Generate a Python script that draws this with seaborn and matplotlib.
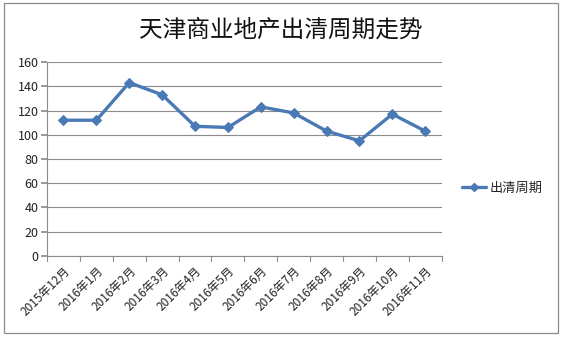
import matplotlib
matplotlib.use("Agg")
import matplotlib.pyplot as plt
import seaborn as sns
import pandas as pd
from matplotlib.patches import Rectangle
from matplotlib.lines import Line2D

categories = ["2015年12月", "2016年1月", "2016年2月", "2016年3月", "2016年4月", "2016年5月",
              "2016年6月", "2016年7月", "2016年8月", "2016年9月", "2016年10月", "2016年11月"]
values = [112, 112, 143, 133, 107, 106, 123, 118, 103, 95, 117, 103]
series_name = "出清周期"
title = "天津商业地产出清周期走势"
yticks = [0, 20, 40, 60, 80, 100, 120, 140, 160]

sns.set_theme(style="white")
plt.rcParams['font.family'] = ['Noto Sans CJK SC', 'DejaVu Sans']

df = pd.DataFrame({"month": categories, "value": values, "x": range(len(categories))})

fig = plt.figure(figsize=(5.63, 3.39), dpi=100)
ax = fig.add_axes([0.0835, 0.245, 0.701, 0.572])

color = "#4A7AB5"
sns.lineplot(data=df, x="x", y="value", ax=ax, color=color, linewidth=2.4,
             marker="D", markersize=5.5, markeredgecolor=color, legend=False)

ax.set_xlim(-0.5, len(categories) - 0.5)
ax.set_ylim(0, 160)
ax.set_yticks(yticks)
ax.set_yticklabels([str(t) for t in yticks], fontsize=9, color="#222222")
ax.grid(axis="y", color="#8c8c8c", linewidth=0.8)
ax.set_axisbelow(True)

ax.set_xticks(range(len(categories)))
ax.set_xticklabels(categories, rotation=45, ha="right", rotation_mode="anchor",
                   fontsize=8.5, color="#222222")
ax.tick_params(axis="x", length=0, pad=6)
ax.tick_params(axis="y", length=4, color="#8c8c8c", direction="out", left=True, pad=2)
# boundary tick marks between categories
for b in [i - 0.5 for i in range(len(categories) + 1)]:
    ax.plot([b, b], [0, -4.5], color="#8c8c8c", linewidth=0.8, clip_on=False)

for s in ["top", "right"]:
    ax.spines[s].set_visible(False)
for s in ["left", "bottom"]:
    ax.spines[s].set_color("#8c8c8c")
    ax.spines[s].set_linewidth(0.8)
ax.set_xlabel("")
ax.set_ylabel("")

fig.text(0.498, 0.91, title, ha="center", va="center", fontsize=17,
         fontweight="medium", color="#111111")

handle = Line2D([], [], color=color, linewidth=2.4, marker="D", markersize=4)
fig.legend([handle], [series_name], loc="center left", bbox_to_anchor=(0.8, 0.445),
           frameon=False, fontsize=9.5, handlelength=1.8, handletextpad=0.3)

fig.patches.append(Rectangle((0.0071, 0.0177), 0.984, 0.973, transform=fig.transFigure,
                             fill=False, edgecolor="#8c8c8c", linewidth=0.9))

fig.savefig("out.png", dpi=100)
